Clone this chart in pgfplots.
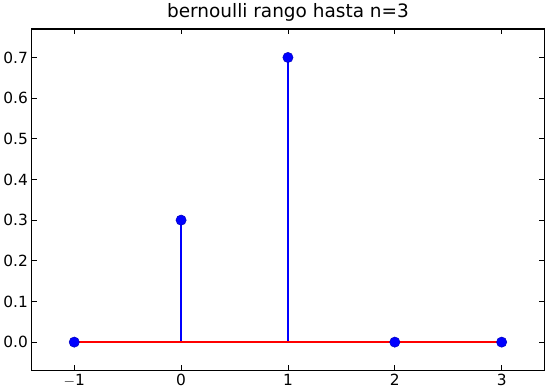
\documentclass[border=0pt]{standalone}
\usepackage{pgfplots}
\pgfplotsset{compat=1.18}
\usepackage{fontspec}
\setmainfont{DejaVu Sans}
\begin{document}
\begin{tikzpicture}[font=\fontsize{15}{18}\selectfont]
\begin{axis}[
  scale only axis,
  width=500pt, height=333pt,
  xmin=-1.4, xmax=3.4, ymin=-0.07, ymax=0.77,
  xtick={-1,0,1,2,3},
  xticklabels={$-$1,0,1,2,3},
  ytick={0,0.1,0.2,0.3,0.4,0.5,0.6,0.7},
  yticklabel style={/pgf/number format/.cd, fixed, fixed zerofill, precision=1},
  /pgf/number format/assume math mode=true,
  tick align=inside,
  major tick length=5pt,
  tick style={black, line width=0.7pt},
  axis line style={line width=1.2pt},
  ticklabel style={font=\fontsize{15}{18}\selectfont},
  title={bernoulli rango hasta n=3},
  title style={font=\fontsize{18}{21}\selectfont, yshift=-2pt},
]
\addplot[ycomb, color=blue, line width=1.5pt, mark=none]
  coordinates {(-1,0) (0,0.3) (1,0.7) (2,0) (3,0)};
\addplot[only marks, color=blue, mark=*, mark size=5pt,
  mark options={fill=blue, draw=blue!75!black, line width=0.5pt}]
  coordinates {(-1,0) (0,0.3) (1,0.7) (2,0) (3,0)};
\addplot[color=red, line width=1.5pt, mark=none] coordinates {(-1,0) (3,0)};
\end{axis}
\end{tikzpicture}
\end{document}
